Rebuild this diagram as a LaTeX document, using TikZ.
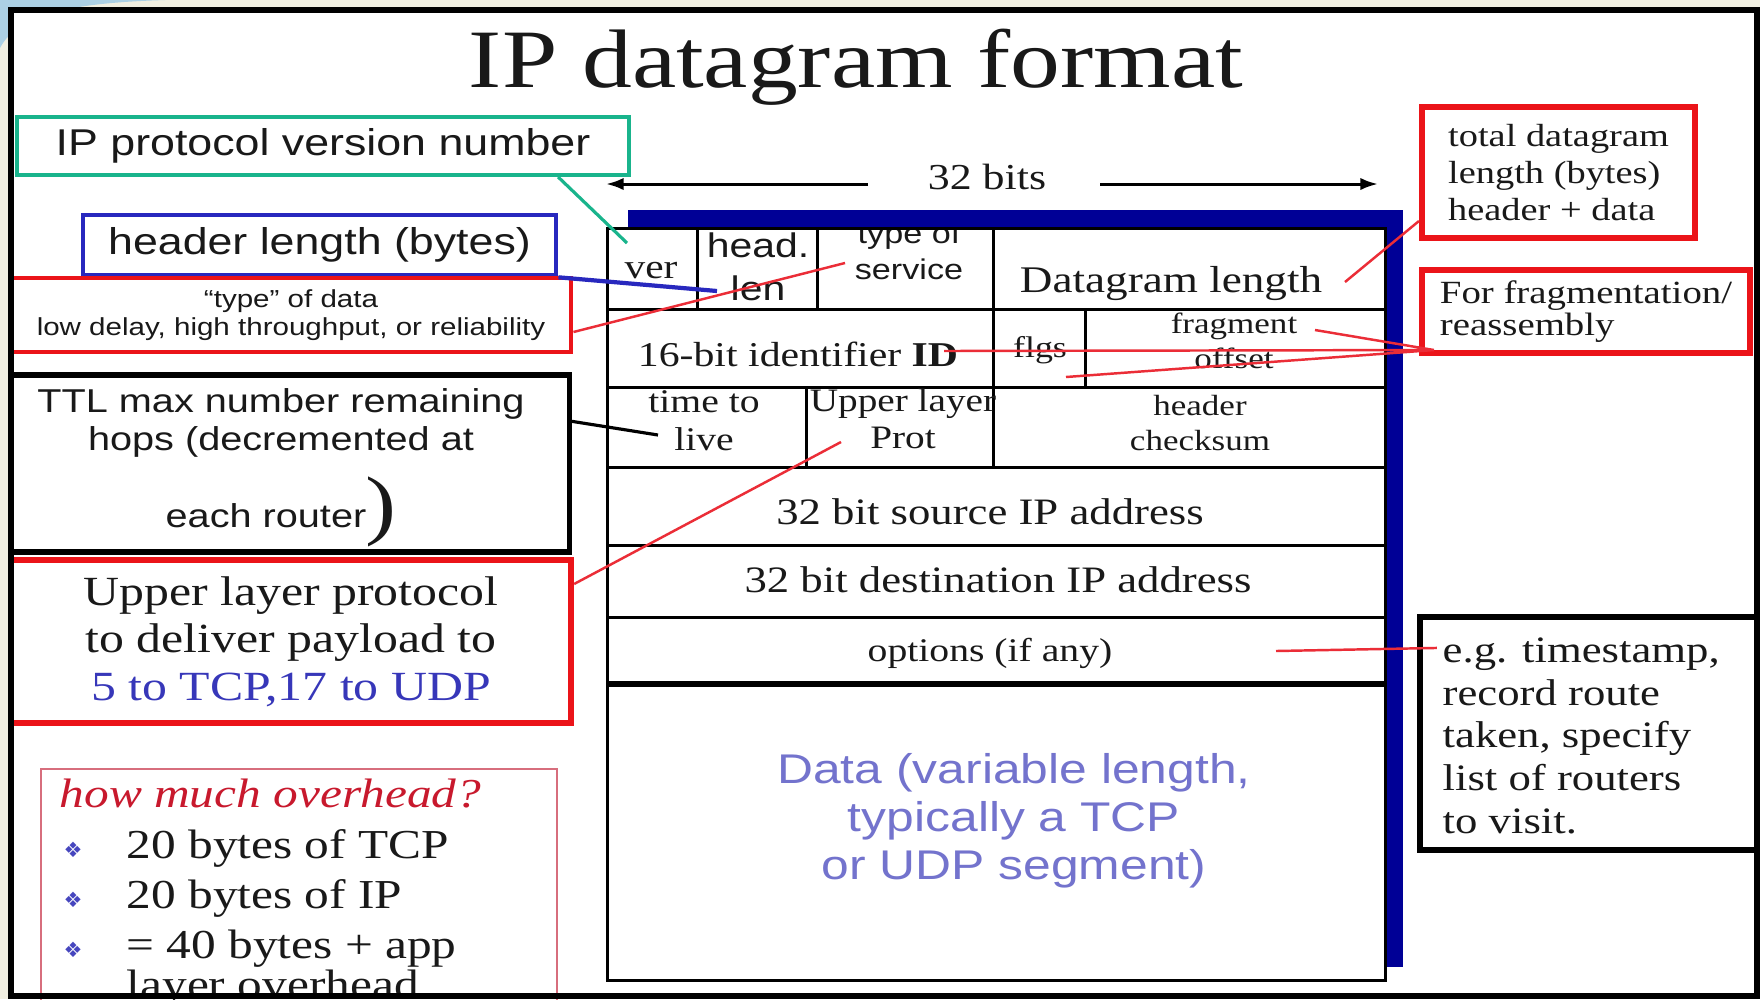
\documentclass[tikz,border=0pt]{standalone}
\usepackage{fontspec}
\setmainfont{Liberation Serif}[FakeStretch=1.2]
\setsansfont{Liberation Sans}[FakeStretch=1.2]
\newfontfamily\dejavu{DejaVu Sans}
\usetikzlibrary{calc,arrows.meta}

\definecolor{cream}{RGB}{241,239,225}
\definecolor{swoosh}{RGB}{172,208,228}
\definecolor{ink}{RGB}{25,25,25}
\definecolor{navy}{RGB}{0,0,150}
\definecolor{tealc}{RGB}{25,180,140}
\definecolor{hblue}{RGB}{40,40,190}
\definecolor{boxred}{RGB}{235,20,25}
\definecolor{linkred}{RGB}{235,45,55}
\definecolor{lavender}{RGB}{115,115,205}
\definecolor{tcpblue}{RGB}{55,55,185}
\definecolor{ovred}{RGB}{215,110,125}
\definecolor{ovtitle}{RGB}{200,25,45}
\definecolor{bulblue}{RGB}{70,70,190}

\newcommand{\fsz}[2]{\fontsize{#1}{#2}\selectfont}

\tikzset{
  >={Latex[length=5pt,width=3.5pt]},
  cell/.style={inner sep=0pt, text=ink, align=center},
  note/.style={draw, inner sep=0pt, text=ink, align=center},
  link/.style={draw=linkred, line width=0.7pt},
  rule/.style={line width=0.85pt},
  bullet/.style={inner sep=0pt, text=bulblue, font=\dejavu\fsz{6}{6}},
}

\begin{document}
\begin{tikzpicture}[x=0.01cm,y=-0.01cm]
\useasboundingbox (0,0) rectangle (1760,999);
% slide
\fill[cream] (0,0) rectangle (1760,999);
\fill[swoosh] (0,0) -- (165,0) .. controls (70,3) and (18,14) .. (0,48) -- cycle;
\fill[white] (11,10) rectangle (1757,996);

\node[anchor=base, inner sep=0pt, text=ink, font=\fsz{23.6}{28}] (title) at (856,87) {IP datagram format};

% 32 bits
\node[anchor=base, inner sep=0pt, text=ink, font=\fsz{10.4}{12}] (bits) at (987,189) {32 bits};
\coordinate (bitsLs) at (868,184);
\coordinate (bitsL) at (606,184);
\coordinate (bitsRs) at (1100,184);
\coordinate (bitsR) at (1378,184);
\draw[->, rule] (bitsLs) -- (bitsL);
\draw[->, rule] (bitsRs) -- (bitsR);

% datagram
\fill[navy] (628,210) rectangle (1403,967);
\filldraw[fill=white, rule] (607,228) rectangle (1385,980);
\foreach \yy in {309,387,467,545,617}
  \draw[rule] (607,\yy) -- (1385,\yy);
\draw[line width=1.7pt] (607,684) -- (1385,684);
\draw[rule] (697,228) -- (697,309) (817,228) -- (817,309) (993,228) -- (993,467)
  (1085,309) -- (1085,387) (806,387) -- (806,467);

% multi-line nodes sit on the baseline of their last line
\begin{scope}
\clip (607,230) rectangle (1385,980);
\node[cell, anchor=base, font=\fsz{9.8}{11}] (ver) at (651,278) {ver};
\node[cell, anchor=base, font=\sffamily\fsz{9.7}{12}] (headlen) at (758,300) {head.\\len};
\node[cell, anchor=base, font=\sffamily\fsz{8.1}{10.2}] (tos) at (909,279) {type of\\service};
\node[cell, anchor=base, font=\fsz{10.7}{12}] (dglen) at (1171,292) {Datagram length};
\node[cell, anchor=base, font=\fsz{9.9}{11}] (ident) at (798,366) {16-bit identifier \textbf{ID}};
\node[cell, anchor=base, font=\fsz{8.5}{10}] (flgs) at (1040,357) {flgs};
\node[cell, anchor=base, font=\fsz{8.3}{9.7}] (fragoff) at (1234,368) {fragment\\offset};
\node[cell, anchor=base, font=\fsz{9.4}{10.8}] (ttl) at (704,450) {time to\\live};
\node[cell, anchor=base, font=\fsz{9.3}{10.5}] (ulp) at (903,448) {Upper layer\\Prot};
\node[cell, anchor=base, font=\fsz{8.3}{9.7}] (chk) at (1200,450) {header\\checksum};
\node[cell, anchor=base, font=\fsz{10.6}{12}] (src) at (990,524) {32 bit source IP address};
\node[cell, anchor=base, font=\fsz{10.6}{12}] (dst) at (998,592) {32 bit destination IP address};
\node[cell, anchor=base, font=\fsz{9.4}{11}] (opts) at (990,661) {options (if any)};
\node[cell, anchor=base, text=lavender, font=\sffamily\fsz{11.8}{13.6}] (data) at (1014,879)
  {Data (variable length,\\typically a TCP\\or UDP segment)};
\end{scope}

% left notes
\node[note, draw=tealc, line width=1.1pt, minimum width=6.12cm, minimum height=0.58cm,
  font=\sffamily\fsz{10.6}{12}] (ipver) at (323,146) {IP protocol version number};
\node[note, draw=hblue, line width=1.3pt, minimum width=4.73cm, minimum height=0.60cm,
  font=\sffamily\fsz{10.6}{12}] (hlen) at (319.5,245) {header length (bytes)};
\node[note, draw=boxred, line width=1.3pt, minimum width=5.60cm, minimum height=0.74cm,
  font=\sffamily\fsz{7}{8}] (tosnote) at (291,315)
  {“type” of data\\low delay, high throughput, or reliability};
\node[note, draw=black, line width=1.5pt, minimum width=5.58cm, minimum height=1.77cm]
  (ttlnote) at (290,463.5) {};
\node[cell, anchor=base, font=\sffamily\fsz{9.4}{10.8}] (ttltext) at (281,450)
  {TTL max number remaining\\hops (decremented at};
\node[cell, anchor=base, font=\sffamily\fsz{9.4}{10.8}] (router) at (266,527) {each router};
\node[cell, anchor=base, font=\fsz{22}{24}] (paren) at (381,530) {)};
\node[note, draw=boxred, line width=1.7pt, minimum width=5.60cm, minimum height=1.63cm,
  font=\fsz{11.8}{13.5}] (ulpnote) at (291,641.5)
  {Upper layer protocol\\to deliver payload to\\\textcolor{tcpblue}{5 to TCP,17 to UDP}};

% overhead
\node[draw=ovred, line width=0.6pt, minimum width=5.155cm, minimum height=2.45cm, inner sep=0pt]
  (ovbox) at (299.25,891.5) {};
\node[anchor=base west, inner sep=0pt, text=ovtitle, font=\itshape\fsz{11.7}{14}] (ovq) at (59,807)
  {how much overhead?};
\foreach \yy/\txt [count=\i] in {858/20 bytes of TCP, 908/20 bytes of IP, 958/{= 40 bytes + app}} {
  \node[bullet] (bul\i) at (73,\yy-8) {❖};
  \node[anchor=base west, inner sep=0pt, text=ink, font=\fsz{11.7}{14}] (ov\i) at (126,\yy) {\txt};
}
\node[anchor=base west, inner sep=0pt, text=ink, font=\fsz{11.7}{14}] (ov4) at (126,998) {layer overhead};

% right notes
\node[note, draw=boxred, line width=1.7pt, minimum width=2.73cm, minimum height=1.31cm,
  align=left, font=\fsz{9.1}{10.5}] (totnote) at (1558.5,172.5)
  {total datagram\\length (bytes)\\header + data};
\node[note, draw=boxred, line width=1.7pt, minimum width=3.28cm, minimum height=0.83cm,
  align=left, font=\fsz{9.2}{9.2}] (fragnote) at (1586,311.5) {For fragmentation/\\reassembly};
\node[note, draw=black, line width=1.7pt, minimum width=3.70cm, minimum height=2.33cm]
  (optnote) at (1605,733.5) {};
\node[anchor=base west, align=left, inner sep=0pt, text=ink, font=\fsz{10.6}{12.1}] (opttext) at (1442,833)
  {e.g. timestamp,\\record route\\taken, specify\\list of routers\\to visit.};

% connectors
\coordinate (verpt) at (627,243);
\coordinate (hlenpt) at (717,291);
\coordinate (tospt) at (845,263);
\coordinate (ttlpt) at (658,435);
\coordinate (protpt) at (841,442);
\coordinate (dglenpt) at (1345,282);
\coordinate (idpt) at (944,351);
\coordinate (flgspt) at (1066,377);
\coordinate (fragpt) at (1315,330);
\coordinate (optpt) at (1276,651);
\coordinate (fragin) at ($(fragnote.south west)+(15,-6)$);

\draw[tealc, line width=0.9pt] ($(ipver.south east)+(-73,0)$) -- (verpt);
\draw[hblue, line width=1.2pt] (hlen.south east) -- (hlenpt);
\draw[link] ($(tosnote.east)+(0,17)$) -- (tospt);
\draw[line width=0.9pt] ($(ttlnote.north east)+(0,49)$) -- (ttlpt);
\draw[link] ($(ulpnote.north east)+(0,27)$) -- (protpt);
\draw[link] ($(totnote.south west)+(0,-20)$) -- (dglenpt);
\draw[link] (fragin) -- (idpt) (fragin) -- (flgspt) (fragin) -- (fragpt);
\draw[link] ($(optnote.north west)+(20,34)$) -- (optpt);

% frame
\draw[line width=1.8pt] (11,10) rectangle (1757,996);
\end{tikzpicture}
\end{document}
